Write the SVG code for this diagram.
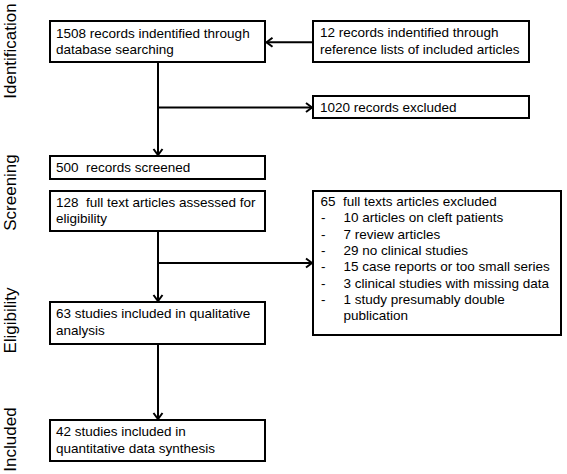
<svg xmlns="http://www.w3.org/2000/svg" width="567" height="474" viewBox="0 0 567 474">
<style>
.box{fill:#fff;stroke:#000;stroke-width:2}
.t{font-family:"Liberation Sans",Arial,sans-serif;font-size:13.5px;fill:#000}
.side{font-family:"Liberation Sans",Arial,sans-serif;font-size:17px;fill:#000;text-anchor:middle}
.ln{fill:none;stroke:#000;stroke-width:2}
</style>
<defs>
<marker id="arr" markerUnits="userSpaceOnUse" markerWidth="12" markerHeight="12" viewBox="0 0 12 12" refX="10" refY="6" orient="auto">
<path d="M4,1.5 L10,6 L4,10.5" fill="none" stroke="#000" stroke-width="2"/>
</marker>
</defs>
<rect width="567" height="474" fill="#fff"/>
<g id="phases">
<text class="side" transform="translate(15.5,51) rotate(-90)">Identification</text>
<text class="side" transform="translate(15.5,192.5) rotate(-90)">Screening</text>
<text class="side" transform="translate(15.5,320.5) rotate(-90)">Eligibility</text>
<text class="side" transform="translate(15.5,439.5) rotate(-90)">Included</text>
</g>
<g id="connectors">
<line class="ln" x1="312" y1="42.3" x2="266.5" y2="42.3" marker-end="url(#arr)"/>
<line class="ln" x1="158" y1="62" x2="158" y2="155" marker-end="url(#arr)"/>
<line class="ln" x1="158" y1="107.5" x2="312" y2="107.5" marker-end="url(#arr)"/>
<line class="ln" x1="158" y1="232" x2="158" y2="301" marker-end="url(#arr)"/>
<line class="ln" x1="158" y1="263" x2="312" y2="263" marker-end="url(#arr)"/>
<line class="ln" x1="158" y1="345" x2="158" y2="419" marker-end="url(#arr)"/>
</g>
<g id="n1">
<rect class="box" x="50" y="21" width="215" height="41"/>
<text class="t" x="56" y="37.7">1508 records indentified through</text>
<text class="t" x="56" y="54.3">database searching</text>
</g>
<g id="n2">
<rect class="box" x="313" y="21" width="216" height="41"/>
<text class="t" x="320" y="37">12 records indentified through</text>
<text class="t" x="320" y="53.7">reference lists of included articles</text>
</g>
<g id="n3">
<rect class="box" x="313" y="96" width="216" height="22"/>
<text class="t" x="320" y="111.5">1020 records excluded</text>
</g>
<g id="n4">
<rect class="box" x="50" y="156" width="215" height="23"/>
<text class="t" x="56" y="171.5" xml:space="preserve">500  records screened</text>
</g>
<g id="n5">
<rect class="box" x="50" y="191" width="215" height="40"/>
<text class="t" x="56" y="206.5" xml:space="preserve">128  full text articles assessed for</text>
<text class="t" x="56" y="223">eligibility</text>
</g>
<g id="n6">
<rect class="box" x="313" y="191" width="248" height="144"/>
<text class="t" x="320.5" y="206" xml:space="preserve">65  full texts articles excluded</text>
<g class="t">
<text x="321" y="222.3">-</text><text x="343.5" y="222.3">10 articles on cleft patients</text>
<text x="321" y="238.6">-</text><text x="343.5" y="238.6">7 review articles</text>
<text x="321" y="255">-</text><text x="343.5" y="255">29 no clinical studies</text>
<text x="321" y="271.3">-</text><text x="343.5" y="271.3">15 case reports or too small series</text>
<text x="321" y="287.6">-</text><text x="343.5" y="287.6">3 clinical studies with missing data</text>
<text x="321" y="304">-</text><text x="343.5" y="304">1 study presumably double</text>
<text x="343.5" y="320.3">publication</text>
</g>
</g>
<g id="n7">
<rect class="box" x="50" y="302" width="215" height="42"/>
<text class="t" x="56" y="318.3">63 studies included in qualitative</text>
<text class="t" x="56" y="335">analysis</text>
</g>
<g id="n8">
<rect class="box" x="50" y="420" width="215" height="41"/>
<text class="t" x="56" y="436">42 studies included in</text>
<text class="t" x="56" y="452.7">quantitative data synthesis</text>
</g>
</svg>
